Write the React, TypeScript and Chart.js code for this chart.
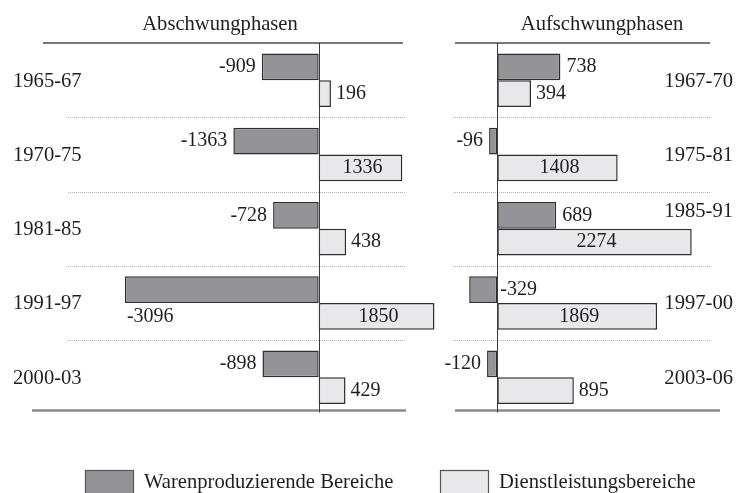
import React, { useEffect, useRef } from 'react';
import { Chart, registerables } from 'chart.js';

Chart.register(...registerables);

// ---------- data ----------
const downCategories = ['1965-67', '1970-75', '1981-85', '1991-97', '2000-03'];
const downWaren = [-909, -1363, -728, -3096, -898];
const downDienst = [196, 1336, 438, 1850, 429];

const upCategories = ['1967-70', '1975-81', '1985-91', '1997-00', '2003-06'];
const upWaren = [738, -96, 689, -329, -120];
const upDienst = [394, 1408, 2274, 1869, 895];

const seriesNames = ['Warenproduzierende Bereiche', 'Dienstleistungsbereiche'];
const panelTitles = ['Abschwungphasen', 'Aufschwungphasen'];

const downRange = [-4580, 1395];
const upRange = [-495, 2605];

// ---------- style ----------
const DARK = '#949498';
const LIGHT = '#e8e8ea';
const BORDER = '#2e2e2e';
const TEXT = '#1e1e1e';
const FONT = '20px "Liberation Serif", "Times New Roman", serif';
const FONT_BIG = '20.6px "Liberation Serif", "Times New Roman", serif';

type PanelCfg = {
  title: string;
  titleX: number;
  side: 'left' | 'right';
  catX: number;
  topLine: [number, number];
  dotted: [number, number];
  negLimit: (a: any) => number;
  negFallback: 'below' | 'right';
  legend: boolean;
};

function makePlugin(cfg: PanelCfg) {
  return {
    id: 'panelDeco',
    beforeDatasetsDraw(chart: any) {
      const { ctx, chartArea: a, scales } = chart;
      const y = scales.y;
      ctx.save();
      // title
      ctx.font = FONT_BIG;
      ctx.fillStyle = TEXT;
      ctx.textAlign = 'center';
      ctx.textBaseline = 'alphabetic';
      ctx.fillText(cfg.title, cfg.titleX, 30);

      // top line
      ctx.strokeStyle = '#4a4a4a';
      ctx.lineWidth = 1.5;
      ctx.beginPath();
      ctx.moveTo(a.left + cfg.topLine[0], a.top);
      ctx.lineTo(a.right + cfg.topLine[1], a.top);
      ctx.stroke();

      // dotted separators
      ctx.strokeStyle = '#b4b4b4';
      ctx.lineWidth = 1;
      ctx.setLineDash([1, 1]);
      const n = chart.data.labels.length;
      for (let i = 0; i < n - 1; i++) {
        const yy = Math.round((y.getPixelForTick(i) + y.getPixelForTick(i + 1)) / 2) + 0.5;
        ctx.beginPath();
        ctx.moveTo(a.left + cfg.dotted[0], yy);
        ctx.lineTo(a.right + cfg.dotted[1], yy);
        ctx.stroke();
      }
      ctx.setLineDash([]);

      // bottom line
      ctx.strokeStyle = '#8a8a8a';
      ctx.lineWidth = 2.5;
      ctx.beginPath();
      ctx.moveTo(a.left, a.bottom - 4);
      ctx.lineTo(a.right, a.bottom - 4);
      ctx.stroke();
      ctx.restore();
    },
    afterDatasetsDraw(chart: any) {
      const { ctx, chartArea: a, scales } = chart;
      const x = scales.x;
      const y = scales.y;
      ctx.save();
      // zero axis
      const zx = Math.round(x.getPixelForValue(0)) + 0.5;
      ctx.strokeStyle = '#3a3a3a';
      ctx.lineWidth = 1;
      ctx.beginPath();
      ctx.moveTo(zx, a.top);
      ctx.lineTo(zx, a.bottom - 2);
      ctx.stroke();

      ctx.font = FONT;
      ctx.fillStyle = TEXT;
      ctx.textBaseline = 'middle';
      const metaW = chart.getDatasetMeta(0);
      const metaD = chart.getDatasetMeta(1);
      const dsW = chart.data.datasets[0].data;
      const dsD = chart.data.datasets[1].data;
      const labels = chart.data.labels;

      for (let i = 0; i < labels.length; i++) {
        const bw = metaW.data[i];
        const bd = metaD.data[i];
        ctx.font = FONT;
        // Waren value label
        const vW = dsW[i];
        const tW = String(vW);
        const wW = ctx.measureText(tW).width;
        if (vW < 0) {
          const leftEdge = bw.x - 6 - wW;
          if (leftEdge >= cfg.negLimit(a)) {
            ctx.textAlign = 'right';
            ctx.fillText(tW, bw.x - 6, bw.y);
          } else if (cfg.negFallback === 'below') {
            ctx.textAlign = 'left';
            ctx.fillText(tW, bw.x + 2, bd.y);
          } else {
            ctx.textAlign = 'left';
            ctx.fillText(tW, bw.base + 3, bw.y);
          }
        } else {
          ctx.textAlign = 'left';
          ctx.fillText(tW, bw.x + 6, bw.y);
        }
        // Dienst value label
        const vD = dsD[i];
        const tD = String(vD);
        const len = bd.x - bd.base;
        if (len > 80) {
          ctx.textAlign = 'center';
          ctx.fillText(tD, (bd.x + bd.base) / 2 + 2, bd.y);
        } else {
          ctx.textAlign = 'left';
          ctx.fillText(tD, bd.x + 5, bd.y);
        }

        // category label
        ctx.font = FONT_BIG;
        const cy = y.getPixelForTick(i);
        const cat = labels[i];
        if (cfg.side === 'left') {
          ctx.textAlign = 'left';
          ctx.fillText(cat, cfg.catX, cy + 1);
        } else {
          ctx.textAlign = 'right';
          const cw = ctx.measureText(cat).width;
          const yy = bd.x + 5 > cfg.catX - cw ? bw.y - 4 : cy + 1;
          ctx.fillText(cat, cfg.catX, yy);
        }
      }

      // legend
      if (cfg.legend) {
        const boxes = [85, 440];
        ctx.font = FONT_BIG;
        chart.data.datasets.forEach((ds: any, k: number) => {
          const bx = boxes[k];
          ctx.fillStyle = ds.backgroundColor;
          ctx.fillRect(bx, 470, 48, 30);
          ctx.strokeStyle = '#555';
          ctx.lineWidth = 1.2;
          ctx.strokeRect(bx + 0.5, 470.5, 48, 30);
          ctx.fillStyle = TEXT;
          ctx.textAlign = 'left';
          ctx.textBaseline = 'alphabetic';
          ctx.fillText(ds.label, bx + 59, 488);
        });
      }
      ctx.restore();
    },
  };
}

function buildConfig(
  cats: string[],
  waren: number[],
  dienst: number[],
  range: number[],
  padding: any,
  cfg: PanelCfg
): any {
  const common = {
    borderColor: BORDER,
    borderWidth: 1.5,
    borderSkipped: false,
    clip: false,
    categoryPercentage: 0.72,
    barPercentage: 1,
  };
  return {
    type: 'bar',
    data: {
      labels: cats,
      datasets: [
        { label: seriesNames[0], data: waren, backgroundColor: DARK, ...common },
        { label: seriesNames[1], data: dienst, backgroundColor: LIGHT, ...common },
      ],
    },
    options: {
      indexAxis: 'y',
      responsive: false,
      animation: false,
      events: [],
      layout: { padding },
      plugins: {
        legend: { display: false },
        title: { display: false },
        tooltip: { enabled: false },
      },
      scales: {
        x: { display: false, min: range[0], max: range[1], grid: { display: false } },
        y: { display: false, grid: { display: false } },
      },
    },
    plugins: [makePlugin(cfg)],
  };
}

export default function App() {
  const leftRef = useRef<HTMLCanvasElement>(null);
  const rightRef = useRef<HTMLCanvasElement>(null);

  useEffect(() => {
    const left = new Chart(
      leftRef.current as HTMLCanvasElement,
      buildConfig(
        downCategories,
        downWaren,
        downDienst,
        downRange,
        { left: 32, right: 332, top: 43, bottom: 78.5 },
        {
          title: panelTitles[0],
          titleX: 220,
          side: 'left',
          catX: 13,
          topLine: [11, -3],
          dotted: [36, -1],
          negLimit: () => 90,
          negFallback: 'below',
          legend: true,
        }
      )
    );
    const right = new Chart(
      rightRef.current as HTMLCanvasElement,
      buildConfig(
        upCategories,
        upWaren,
        upDienst,
        upRange,
        { left: 455, right: 18, top: 43, bottom: 78.5 },
        {
          title: panelTitles[1],
          titleX: 602,
          side: 'right',
          catX: 733,
          topLine: [0, -10],
          dotted: [-2, -10],
          negLimit: (a: any) => a.left - 20,
          negFallback: 'right',
          legend: false,
        }
      )
    );
    return () => {
      left.destroy();
      right.destroy();
    };
  }, []);

  const canvasStyle: React.CSSProperties = { position: 'absolute', left: 0, top: 0 };
  return (
    <div style={{ position: 'absolute', left: 0, top: 0, width: 738, height: 493, background: '#fff', overflow: 'hidden' }}>
      <canvas ref={leftRef} width={738} height={493} style={canvasStyle} />
      <canvas ref={rightRef} width={738} height={493} style={canvasStyle} />
    </div>
  );
}
